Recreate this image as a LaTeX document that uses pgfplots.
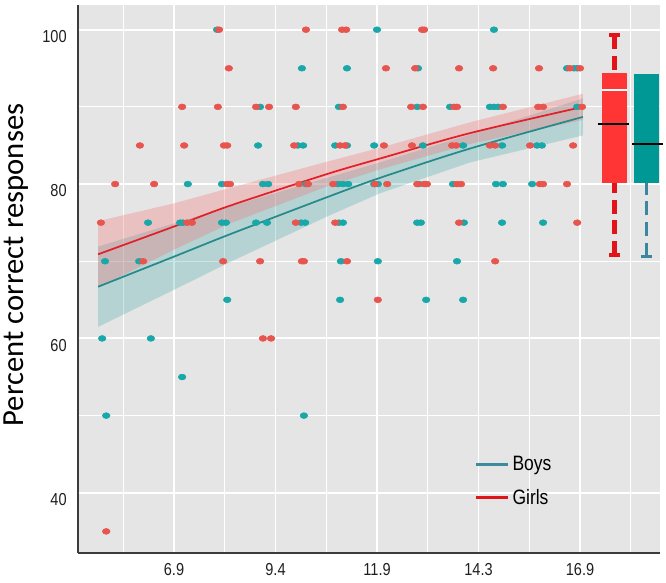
\documentclass[border=0pt]{standalone}
\usepackage{fontspec}
\setmainfont{Liberation Sans}
\newfontfamily\narrowfont{Liberation Sans}[FakeStretch=0.84]
\newfontfamily\labelfont{Carlito}
\usepackage{pgfplots}
\usepackage{pgfplotstable}
\pgfplotsset{compat=1.18}

\definecolor{bg}{RGB}{229,229,229}
\definecolor{girlpt}{RGB}{232,84,78}
\definecolor{boypt}{RGB}{24,168,170}
\definecolor{girlline}{RGB}{226,32,42}
\definecolor{boyline}{RGB}{38,138,138}
\definecolor{girlband}{RGB}{246,110,110}
\definecolor{boyband}{RGB}{40,160,160}
\definecolor{girlbox}{RGB}{255,52,52}
\definecolor{boybox}{RGB}{0,152,148}
\definecolor{girlwhisk}{RGB}{225,20,25}
\definecolor{boywhisk}{RGB}{60,135,160}
\definecolor{boyleg}{RGB}{60,140,160}
\definecolor{axisline}{RGB}{60,60,60}

\pgfplotstableread{
x y
8.01 100
10.15 100
11.04 100
11.14 100
13.01 100
13.06 100
8.25 95
12.12 95
12.84 95
13.92 95
14.76 95
15.89 95
16.65 95
16.90 95
7.10 90
7.98 90
8.92 90
9.24 90
9.90 90
11.06 90
12.74 90
13.03 90
13.80 90
13.87 90
15.00 90
15.87 90
15.99 90
16.95 90
6.06 85
7.15 85
8.13 85
8.21 85
9.86 85
10.99 85
11.11 85
12.07 85
12.76 85
13.75 85
13.85 85
14.68 85
14.81 85
15.67 85
16.73 85
5.45 80
6.41 80
8.21 80
8.28 80
9.98 80
10.20 80
10.82 80
11.85 80
12.15 80
12.89 80
13.06 80
13.13 80
13.87 80
13.97 80
15.91 80
15.99 80
16.58 80
5.10 75
7.22 75
7.34 75
9.90 75
10.87 75
13.92 75
16.83 75
6.14 70
8.11 70
9.02 70
10.05 70
10.10 70
11.16 70
14.81 70
11.92 65
9.09 60
9.29 60
5.23 35
}\girls

\pgfplotstableread{
x y
7.96 100
11.90 100
14.78 100
10.05 95
11.16 95
12.91 95
16.58 95
16.75 95
16.83 95
9.02 90
10.96 90
12.89 90
13.70 90
14.68 90
14.78 90
14.88 90
16.83 90
8.97 85
9.95 85
10.08 85
10.87 85
11.16 85
11.83 85
13.03 85
14.02 85
14.98 85
15.84 85
15.96 85
7.24 80
8.08 80
9.09 80
9.22 80
10.15 80
10.94 80
11.06 80
11.19 80
11.83 80
11.92 80
12.93 80
13.77 80
14.83 80
15.00 80
15.72 80
6.26 75
7.05 75
7.12 75
8.08 75
8.18 75
8.92 75
9.19 75
10.03 75
10.13 75
10.96 75
11.06 75
12.89 75
12.98 75
14.04 75
14.98 75
15.99 75
5.20 70
6.04 70
11.01 70
11.92 70
13.87 70
8.21 65
10.99 65
13.11 65
14.02 65
5.13 60
6.33 60
7.10 55
5.23 50
10.10 50
}\boys

% fitted curves
\pgfplotstableread{
x girl boy
5.03 70.9 66.7
6.90 74.5 70.6
8.28 77.2 73.5
10.67 81.3 78.3
11.97 83.3 80.8
14.19 86.6 84.6
16.97 90.0 88.7
}\fits

% confidence bands as closed outlines (upper edge left to right, lower edge right to left)
\pgfplotstableread{
x y
5.03 71.9
6.90 74.9
8.28 77.1
10.67 80.8
11.97 82.8
14.19 86.4
16.97 91.1
16.97 86.3
14.19 82.8
11.97 78.8
10.67 75.8
8.28 69.9
6.90 66.3
5.03 61.5
}\boyband

\pgfplotstableread{
x y
5.03 75.2
6.90 77.5
8.28 79.5
10.67 82.9
11.97 84.7
14.19 88.0
16.97 91.7
16.97 88.3
14.19 85.2
11.97 81.9
10.67 79.7
8.28 74.9
6.90 71.5
5.03 66.6
}\girlband

\begin{document}
\begin{tikzpicture}
\useasboundingbox (-58.5pt,-21.75pt) rectangle (441pt,414.75pt);
\begin{axis}[
  at={(0pt,0pt)}, anchor=south west,
  scale only axis, width=436.5pt, height=411pt,
  xmin=4.535, xmax=18.87, ymin=32.2, ymax=103.2,
  clip=false,
  axis background/.style={fill=bg},
  axis x line*=bottom, axis y line*=left,
  axis line style={draw=axisline, line width=1.3pt, -},
  xtick={6.9,9.4,11.9,14.4,16.9},
  xticklabels={6.9,9.4,11.9,14.3,16.9},
  minor xtick={5.65,8.15,10.65,13.15,15.65,18.15},
  ytick={40,60,80,100},
  minor ytick={50,70,90},
  grid=both,
  major grid style={draw=white, line width=1.4pt},
  minor grid style={draw=white, line width=0.8pt},
  major tick length=0pt, minor tick length=0pt,
  /pgf/number format/assume math mode=true,
  ticklabel style={font=\narrowfont\fontsize{13}{15}\selectfont, text=black!88},
  yticklabel style={xshift=-5pt, yshift=-5pt},
  xticklabel style={yshift=-4pt},
  ylabel={Percent correct responses},
  ylabel style={font=\labelfont\fontsize{23}{27}\selectfont, at={(axis description cs:-0.0945,0.5255)}, anchor=base},
  legend style={at={(rel axis cs:0.677,0.186)}, anchor=north west, draw=none, fill=none,
    font=\narrowfont\fontsize{15.6}{18}\selectfont, row sep=8pt, inner sep=2pt},
  legend cell align=left,
  legend image code/.code={\draw[#1] (0pt,0pt) -- (24pt,0pt);},
]
% points
\addplot[forget plot, only marks, mark=*, mark size=2.2pt, color=boypt, mark options={xscale=1.3, draw=none, fill=boypt}] table[x=x,y=y] {\boys};
\addplot[forget plot, only marks, mark=*, mark size=2.2pt, color=girlpt, mark options={xscale=1.3, draw=none, fill=girlpt}] table[x=x,y=y] {\girls};
% bands
\addplot[forget plot, fill=boyband, fill opacity=0.25, draw=none] table[x=x,y=y] {\boyband};
\addplot[forget plot, fill=girlband, fill opacity=0.3, draw=none] table[x=x,y=y] {\girlband};
% fitted curves
\addplot[forget plot, boyline, line width=1.3pt, smooth] table[x=x,y=boy] {\fits};
\addplot[forget plot, girlline, line width=1.3pt, smooth] table[x=x,y=girl] {\fits};
% Girls box plot
\addplot[forget plot, girlwhisk, line width=3.2pt, dash pattern=on 10.5pt off 5pt] coordinates {(17.75,99.3) (17.75,94.4)};
\addplot[forget plot, girlwhisk, line width=3.2pt, dash pattern=on 10.5pt off 5pt] coordinates {(17.75,70.8) (17.75,80.1)};
\addplot[forget plot, girlwhisk, line width=3.2pt] coordinates {(17.62,99.3) (17.88,99.3)};
\addplot[forget plot, girlwhisk, line width=3.2pt] coordinates {(17.62,70.8) (17.88,70.8)};
\addplot[forget plot, fill=girlbox, draw=none] coordinates {(17.44,80.1) (18.06,80.1) (18.06,94.4) (17.44,94.4)};
\addplot[forget plot, white, line width=1.1pt] coordinates {(17.44,92.2) (18.06,92.2)};
\addplot[forget plot, black, line width=1.3pt] coordinates {(17.34,87.8) (18.11,87.8)};
% Boys box plot
\addplot[forget plot, boywhisk, line width=2.8pt, dash pattern=on 10.5pt off 5pt] coordinates {(18.54,70.6) (18.54,80.1)};
\addplot[forget plot, boywhisk, line width=2.8pt] coordinates {(18.41,70.6) (18.67,70.6)};
\addplot[forget plot, fill=boybox, draw=none] coordinates {(18.23,80.1) (18.85,80.1) (18.85,94.3) (18.23,94.3)};
\addplot[forget plot, black, line width=1.3pt] coordinates {(18.18,85.2) (18.95,85.2)};
% legend
\addlegendimage{boyleg, line width=2.2pt}
\addlegendentry{Boys}
\addlegendimage{girlwhisk, line width=2.2pt}
\addlegendentry{Girls}
\end{axis}
\end{tikzpicture}
\end{document}
